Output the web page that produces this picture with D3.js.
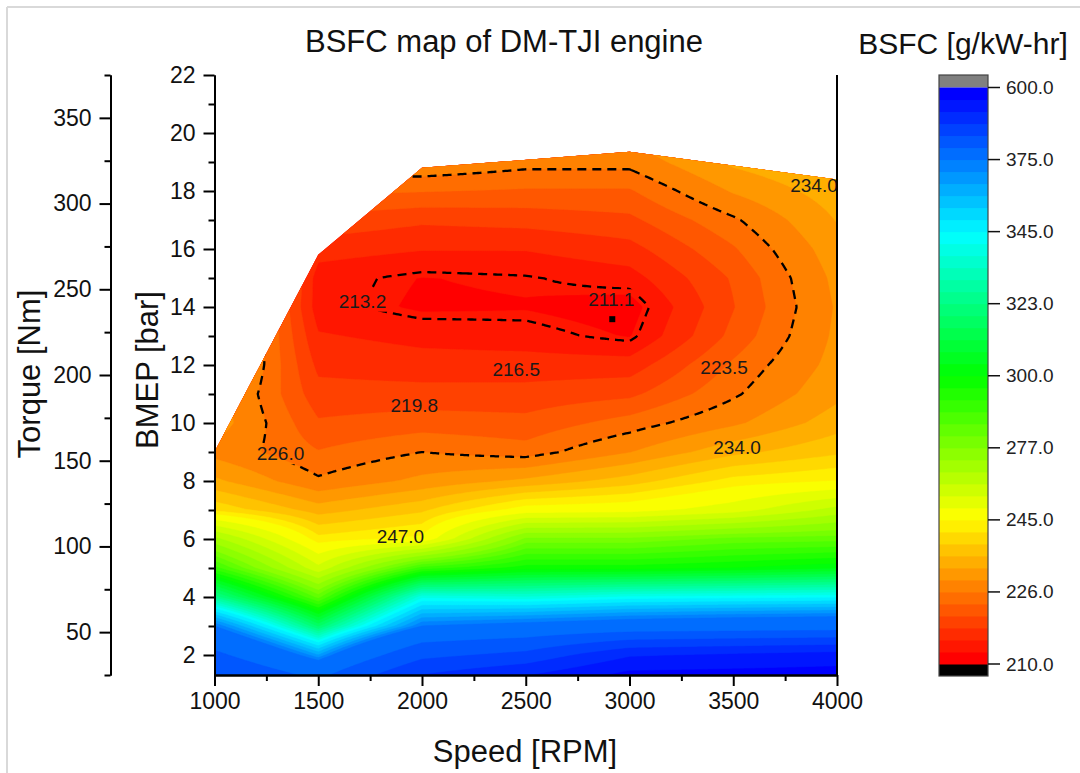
<!DOCTYPE html>
<html>
<head>
<meta charset="utf-8">
<script src="https://cdn.jsdelivr.net/npm/d3@7"></script>
<style>
html,body{margin:0;padding:0;background:#fff;}
svg{display:block;font-family:"Liberation Sans", Arial, sans-serif;}
</style>
</head>
<body>
<svg id="chart" width="1080" height="773"></svg>
<script>
// ---------------- DATA ----------------
const speeds = [1000, 1500, 2000, 2500, 3000, 3500, 4000];
const bmepRows = [1, 2, 3, 4, 5, 6, 7, 8, 9, 10, 11, 12, 13, 14, 15, 16, 17, 18, 19, 20];
// BSFC [g/kW-hr] per speed column, one value per BMEP row
const bsfc1000 = [465, 420, 375, 325, 290, 268, 241, 233, 228, 231, 231, 234, 236, 238, 240, 241, 242, 243, 244, 245];
const bsfc1500 = [420, 365, 318, 283, 257, 243, 234, 226.5, 223.5, 221, 219, 217.3, 215.6, 213.9, 214.0, 216.5, 220, 224, 228, 232];
const bsfc2000 = [510, 440, 375, 340, 290, 246, 238, 230, 226, 222, 219, 216.5, 214.5, 212.3, 212.6, 215.5, 218.5, 223.5, 228.5, 233];
const bsfc2500 = [550, 460, 380, 338, 298, 278, 247, 233, 224.5, 221.5, 219, 216.5, 214, 212.5, 213.0, 215.5, 219, 223, 227, 231];
const bsfc3000 = [598, 520, 385, 342, 298, 278, 248, 237, 229, 224.5, 220, 216.5, 212.5, 211.5, 214.2, 217, 220, 223, 227, 230];
const bsfc3500 = [598, 530, 388, 343, 300, 282, 253, 243, 234.5, 228.5, 225.5, 223.8, 221.5, 220.5, 221, 223, 225.5, 229.5, 233, 236];
const bsfc4000 = [598, 540, 390, 344, 303, 283, 263, 245, 238, 234, 231.5, 230.3, 229.8, 229.5, 230, 231, 232.5, 234, 236, 238];

// full-load (max BMEP) curve bounding the map
const limitSpeed = [1000, 1500, 2000, 3000, 4000];
const limitBMEP = [9.0, 15.8, 18.8, 19.35, 18.4];

// colour scale labelled levels (6 bands between each)
const levelTicks = [210, 226, 245, 277, 300, 323, 345, 375, 600];

// dashed contour levels
const dashedLevels = [226, 213.2];

// contour labels
const labelText = ["213.2", "211.1", "216.5", "219.8", "223.5", "226.0", "234.0", "234.0", "247.0"];
const labelSpeed = [1713, 2912, 2454, 1963, 3456, 1318, 3518, 3889, 1896];
const labelBMEP = [14.2, 14.25, 11.83, 10.6, 11.93, 8.94, 9.15, 18.19, 6.09];

// minimum BSFC point
const minSpeed = [2917];
const minBMEP = [13.58];

// axis ticks
const speedTicks = [1000, 1500, 2000, 2500, 3000, 3500, 4000];
const bmepTicks = [2, 4, 6, 8, 10, 12, 14, 16, 18, 20, 22];
const torqueTicks = [50, 100, 150, 200, 250, 300, 350];

// ---------------- LAYOUT ----------------
const svg = d3.select("#chart");
const x = d3.scaleLinear().domain([1000, 4000]).range([214.5, 837]);
const y = d3.scaleLinear().domain([1.31, 22]).range([675, 75]);
const yT = d3.scaleLinear().domain([25, 375]).range([675, 75]);

// frame lines of the original image
svg.append("line").attr("x1", 7).attr("y1", 7).attr("x2", 7).attr("y2", 773)
  .attr("stroke", "#d9d9d9").attr("stroke-width", 2);
svg.append("line").attr("x1", 7).attr("y1", 7).attr("x2", 1080).attr("y2", 7)
  .attr("stroke", "#d9d9d9").attr("stroke-width", 2);

// levels
const levels = [];
for (let k = 0; k < levelTicks.length - 1; k++) {
  for (let m = 0; m < 6; m++) levels.push(levelTicks[k] + (levelTicks[k + 1] - levelTicks[k]) * m / 6);
}
levels.push(levelTicks[levelTicks.length - 1]);
const nBands = levels.length - 1; // 48
const rainbow = d3.scaleLinear().domain([0, 0.25, 0.5, 0.75, 1])
  .range(["#ff0000", "#ffff00", "#00ff00", "#00ffff", "#0000ff"]);
const bandColor = k => rainbow(k / (nBands - 1));

// bilinear interpolation on the data grid (rendering only)
const columns = [bsfc1000, bsfc1500, bsfc2000, bsfc2500, bsfc3000, bsfc3500, bsfc4000];
function bsfcAt(s, b) {
  const i = Math.min(speeds.length - 2, Math.max(0, d3.bisectRight(speeds, s) - 1));
  const j = Math.min(bmepRows.length - 2, Math.max(0, d3.bisectRight(bmepRows, b) - 1));
  const tx = (s - speeds[i]) / (speeds[i + 1] - speeds[i]);
  const ty = (b - bmepRows[j]) / (bmepRows[j + 1] - bmepRows[j]);
  const c0 = columns[i], c1 = columns[i + 1];
  return (1 - tx) * (1 - ty) * c0[j] + tx * (1 - ty) * c1[j] + (1 - tx) * ty * c0[j + 1] + tx * ty * c1[j + 1];
}
const nx = 320, ny = 320;
const s0 = speeds[0], s1 = speeds[speeds.length - 1];
const b0 = bmepRows[0], b1 = bmepRows[bmepRows.length - 1];
const gridVals = new Array(nx * ny);
for (let j = 0; j < ny; j++) {
  for (let i = 0; i < nx; i++) {
    gridVals[j * nx + i] = bsfcAt(s0 + (i + 0.5) * (s1 - s0) / nx, b0 + (j + 0.5) * (b1 - b0) / ny);
  }
}
const proj = d3.geoTransform({
  point(px, py) {
    this.stream.point(x(s0 + px * (s1 - s0) / nx), y(b0 + py * (b1 - b0) / ny));
  }
});
const gpath = d3.geoPath(proj);

// clip to operating region
const region = [[1000, 1.31]];
limitSpeed.forEach((s, i) => region.push([s, limitBMEP[i]]));
region.push([4000, 1.31]);
const defs = svg.append("defs");
defs.append("clipPath").attr("id", "mapClip").append("path")
  .attr("d", d3.line().x(d => x(d[0])).y(d => y(d[1]))(region) + "Z");

const map = svg.append("g").attr("clip-path", "url(#mapClip)");
const filled = d3.contours().size([nx, ny]).thresholds(levels)(gridVals);
map.selectAll("path.band").data(filled).join("path")
  .attr("class", "band")
  .attr("d", gpath)
  .attr("fill", (d, k) => k < nBands ? bandColor(k) : "#808080")
  .attr("stroke", (d, k) => k < nBands ? bandColor(k) : "#808080")
  .attr("stroke-width", 0.4);

// dashed contour lines (drawn on negated field so the closed side is the low region)
const negVals = gridVals.map(v => -v);
const lines = d3.contours().size([nx, ny]).thresholds(dashedLevels.map(v => -v))(negVals);
const mask = defs.append("mask").attr("id", "lineMask").attr("maskUnits", "userSpaceOnUse")
  .attr("x", 0).attr("y", 0).attr("width", 1080).attr("height", 773);
mask.append("rect").attr("x", 0).attr("y", 0).attr("width", 1080).attr("height", 773).attr("fill", "#fff");
const lineG = map.append("g").attr("mask", "url(#lineMask)");
lineG.selectAll("path.dash").data(lines).join("path")
  .attr("class", "dash")
  .attr("d", gpath)
  .attr("fill", "none")
  .attr("stroke", "#000")
  .attr("stroke-width", 2.3)
  .attr("stroke-dasharray", "9,6");

// contour labels
const labG = svg.append("g");
labelText.forEach((t, i) => {
  const tx = labG.append("text")
    .attr("x", x(labelSpeed[i])).attr("y", y(labelBMEP[i]))
    .attr("text-anchor", "middle").attr("dominant-baseline", "central")
    .attr("font-size", 19).attr("fill", "#1a1a1a").text(t);
  const bb = tx.node().getBBox();
  mask.append("rect").attr("x", bb.x - 2).attr("y", bb.y).attr("width", bb.width + 4).attr("height", bb.height).attr("fill", "#000");
});

// min point marker
minSpeed.forEach((s, i) => {
  svg.append("rect").attr("x", x(s) - 3).attr("y", y(minBMEP[i]) - 3).attr("width", 6).attr("height", 6)
    .attr("fill", "#000");
});

// ---------------- AXES ----------------
const axStroke = "#000";
function styleAxis(g, fs) {
  g.selectAll("path.domain").attr("stroke", axStroke).attr("stroke-width", 2);
  g.selectAll(".tick line").attr("stroke", axStroke).attr("stroke-width", 2);
  g.selectAll(".tick text").attr("font-size", fs).attr("fill", "#111")
    .attr("font-family", '"Liberation Sans", Arial, sans-serif');
}
// X axis
const minorSpeed = d3.range(1250, 4000, 500);
const gxMinor = svg.append("g").attr("transform", "translate(0,675)")
  .call(d3.axisBottom(x).tickValues(minorSpeed).tickSize(6).tickFormat("").tickSizeOuter(0));
styleAxis(gxMinor, 22);
const gx = svg.append("g").attr("transform", "translate(0,675)")
  .call(d3.axisBottom(x).tickValues(speedTicks).tickSize(11).tickPadding(7).tickFormat(d3.format("d")).tickSizeOuter(0));
styleAxis(gx, 23);

// BMEP axis
const minorBmep = d3.range(3, 22, 2);
const gyMinor = svg.append("g").attr("transform", "translate(214.5,0)")
  .call(d3.axisLeft(y).tickValues(minorBmep).tickSize(6).tickFormat("").tickSizeOuter(0));
styleAxis(gyMinor, 22);
const gy = svg.append("g").attr("transform", "translate(214.5,0)")
  .call(d3.axisLeft(y).tickValues(bmepTicks).tickSize(11).tickPadding(8).tickFormat(d3.format("d")).tickSizeOuter(0));
styleAxis(gy, 23);

// Torque axis
const minorTorque = d3.range(25, 400, 50);
const gtMinor = svg.append("g").attr("transform", "translate(110.5,0)")
  .call(d3.axisLeft(yT).tickValues(minorTorque).tickSize(6).tickFormat("").tickSizeOuter(0));
styleAxis(gtMinor, 22);
const gt = svg.append("g").attr("transform", "translate(110.5,0)")
  .call(d3.axisLeft(yT).tickValues(torqueTicks).tickSize(11).tickPadding(8).tickFormat(d3.format("d")).tickSizeOuter(0));
styleAxis(gt, 23);

// right border of plot
svg.append("line").attr("x1", 837).attr("x2", 837).attr("y1", 75).attr("y2", 675)
  .attr("stroke", axStroke).attr("stroke-width", 2);

// titles
svg.append("text").attr("x", 504).attr("y", 52).attr("text-anchor", "middle")
  .attr("font-size", 31).attr("fill", "#111").text("BSFC map of DM-TJI engine");
svg.append("text").attr("x", 525).attr("y", 762).attr("text-anchor", "middle")
  .attr("font-size", 31).attr("fill", "#111").text("Speed [RPM]");
svg.append("text").attr("transform", "translate(158,370) rotate(-90)").attr("text-anchor", "middle")
  .attr("font-size", 31).attr("fill", "#111").text("BMEP [bar]");
svg.append("text").attr("transform", "translate(40,374) rotate(-90)").attr("text-anchor", "middle")
  .attr("font-size", 31).attr("fill", "#111").text("Torque [Nm]");

// ---------------- COLOUR BAR ----------------
const cbX = 939, cbW = 49;
const cb = d3.scaleLinear().domain([0, nBands]).range([664, 87.5]);
const cbG = svg.append("g");
cbG.append("rect").attr("x", cbX).attr("y", 75).attr("width", cbW).attr("height", cb(nBands) - 75).attr("fill", "#808080");
cbG.append("rect").attr("x", cbX).attr("y", cb(0)).attr("width", cbW).attr("height", 676 - cb(0)).attr("fill", "#000");
cbG.selectAll("rect.cband").data(d3.range(nBands)).join("rect")
  .attr("class", "cband")
  .attr("x", cbX).attr("width", cbW)
  .attr("y", k => cb(k + 1)).attr("height", k => cb(k) - cb(k + 1) + 0.5)
  .attr("fill", k => bandColor(k));
cbG.append("rect").attr("x", cbX).attr("y", 75).attr("width", cbW).attr("height", 601)
  .attr("fill", "none").attr("stroke", "#444").attr("stroke-width", 1.2);
const tickIdx = levelTicks.map((v, i) => i * 6);
cbG.selectAll("line.cbt").data(tickIdx).join("line")
  .attr("class", "cbt")
  .attr("x1", cbX + cbW).attr("x2", cbX + cbW + 12)
  .attr("y1", k => cb(k)).attr("y2", k => cb(k))
  .attr("stroke", "#111").attr("stroke-width", 1.5);
cbG.selectAll("text.cbl").data(levelTicks).join("text")
  .attr("class", "cbl")
  .attr("x", cbX + cbW + 18).attr("y", (v, i) => cb(i * 6))
  .attr("dominant-baseline", "central").attr("font-size", 19).attr("fill", "#222")
  .text(v => d3.format(".1f")(v));
svg.append("text").attr("x", 963).attr("y", 54).attr("text-anchor", "middle")
  .attr("font-size", 30).attr("fill", "#111").text("BSFC [g/kW-hr]");
</script>
</body>
</html>
